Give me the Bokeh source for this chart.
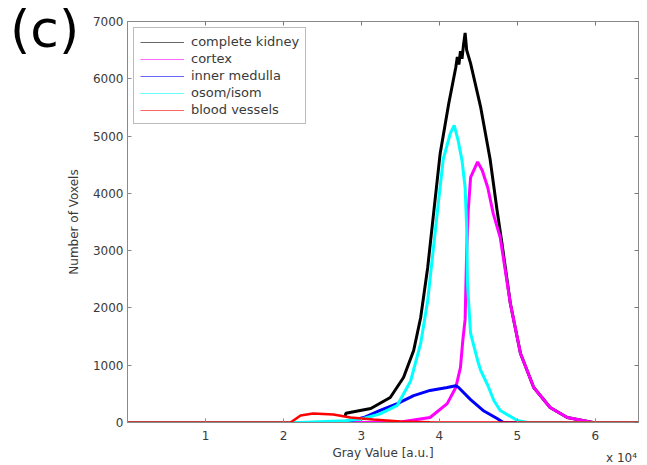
from bokeh.plotting import figure
from bokeh.models import Legend, LegendItem, LinearAxis, FixedTicker, Range1d, Div
from bokeh.layouts import column
from bokeh.embed import file_html
from bokeh.resources import INLINE

# ---- data (gray value in a.u., number of voxels) ----
kidney_x = [27900, 28000, 31200, 33700, 35400, 36700, 37600, 38500, 39200, 40100, 41200,
            42100, 42300, 42500, 42700, 42900, 43100, 43300, 43500, 44000, 45300, 46500,
            47400, 48000, 49100, 50400, 52100, 54200, 56400, 59700]
kidney_y = [100, 160, 244, 437, 786, 1257, 1833, 2706, 3580, 4697, 5570,
            6198, 6380, 6250, 6480, 6350, 6600, 6800, 6500, 6268, 5500, 4600,
            3700, 3150, 2078, 1205, 611, 262, 87, 0]

cortex_x = [0, 34600, 38800, 41000, 42100, 42700, 43000, 43300, 43500, 43700, 44000,
            44900, 45500, 46200, 46900, 47800, 49100, 50400, 52100, 54200, 56400, 59700, 65535]
cortex_y = [0, 0, 87, 330, 611, 960, 1430, 1800, 3000, 3700, 4278,
            4550, 4400, 4103, 3650, 3230, 2078, 1205, 611, 262, 87, 0, 0]

medulla_x = [0, 27700, 30300, 32400, 34600, 36700, 38800, 41000, 42100, 42400, 44000,
             45600, 47400, 48200, 65535]
medulla_y = [0, 0, 87, 210, 330, 470, 560, 611, 640, 620, 400,
             210, 70, 0, 0]

osom_x = [0, 22200, 27900, 30000, 32400, 34600, 36300, 37600, 38500, 39200, 39900,
          40500, 41400, 41900, 42400, 42900, 43300, 43500, 43600, 44000, 44900, 45300,
          46200, 47000, 47800, 50000, 51300, 65535]
osom_y = [0, 0, 30, 60, 150, 300, 720, 1380, 2130, 3000, 3876,
          4600, 5046, 5186, 4924, 4575, 4103, 3400, 2427, 1554, 1083, 908,
          650, 380, 210, 35, 0, 0]

vessels_x = [0, 20900, 22200, 23800, 26400, 28600, 31500, 35000, 38800, 43000, 65535]
vessels_y = [0, 0, 122, 157, 140, 87, 52, 17, 5, 0, 0]

series_names = ["complete kidney", "cortex", "inner medulla", "osom/isom", "blood vessels"]
series_colors = ["#000000", "#ff00ff", "#0000ff", "#00ffff", "#ff0000"]

x_ticks = [10000, 20000, 30000, 40000, 50000, 60000]
x_tick_labels = ["1", "2", "3", "4", "5", "6"]
y_ticks = [0, 1000, 2000, 3000, 4000, 5000, 6000, 7000]

FONT = "DejaVu Sans"
AXIS_GRAY = "#8a8a8a"
TEXT_GRAY = "#3a3a3a"

p = figure(width=647, height=465, output_backend="svg", toolbar_location=None,
           x_range=Range1d(0, 65535), y_range=Range1d(0, 7000),
           min_border_left=127, min_border_right=9, min_border_top=21, min_border_bottom=43)
p.grid.visible = False
p.outline_line_color = AXIS_GRAY
p.background_fill_color = "white"


def style_axis(ax):
    ax.axis_line_color = AXIS_GRAY
    ax.major_tick_line_color = AXIS_GRAY
    ax.major_tick_in = 4
    ax.major_tick_out = 0
    ax.minor_tick_line_color = None
    ax.major_label_text_font = FONT
    ax.major_label_text_font_size = "12px"
    ax.major_label_text_color = TEXT_GRAY
    ax.axis_label_text_font = FONT
    ax.axis_label_text_font_size = "12px"
    ax.axis_label_text_color = TEXT_GRAY
    ax.axis_label_text_font_style = "normal"


xa = p.xaxis[0]
xa.ticker = FixedTicker(ticks=x_ticks)
xa.major_label_overrides = {t: l for t, l in zip(x_ticks, x_tick_labels)}
xa.axis_label = "Gray Value [a.u.]"
ya = p.yaxis[0]
ya.ticker = FixedTicker(ticks=y_ticks)
ya.axis_label = "Number of Voxels"
style_axis(xa)
style_axis(ya)
xa.major_label_standoff = 8
xa.axis_label_standoff = 3
ya.major_label_standoff = 4
ya.axis_label_standoff = 9

# box ticks on top and right (drawn as label-less minor ticks)
top = LinearAxis(ticker=FixedTicker(ticks=[], minor_ticks=x_ticks))
right = LinearAxis(ticker=FixedTicker(ticks=[], minor_ticks=y_ticks))
for ax in (top, right):
    ax.axis_line_color = AXIS_GRAY
    ax.major_tick_line_color = None
    ax.minor_tick_line_color = "#777777"
    ax.minor_tick_in = 4
    ax.minor_tick_out = 0
    ax.major_label_standoff = 0
p.add_layout(top, "above")
p.add_layout(right, "right")

# data lines
data = [(kidney_x, kidney_y), (cortex_x, cortex_y), (medulla_x, medulla_y),
        (osom_x, osom_y), (vessels_x, vessels_y)]
widths = [3, 3, 3, 3, 2.5]
for (xs, ys), c, w in zip(data, series_colors, widths):
    p.line(xs, ys, line_color=c, line_width=w)

# legend with thin sample lines (renderers kept off-screen)
items = []
for name, c in zip(series_names, series_colors):
    r = p.line([-20000, -10000], [-1000, -1000], line_color=c, line_width=1.2, line_alpha=0.6)
    items.append(LegendItem(label=name, renderers=[r]))
legend = Legend(items=items, location="top_left", margin=6, padding=6, spacing=2,
                label_height=14, glyph_height=14, glyph_width=44, label_standoff=7,
                label_text_font=FONT, label_text_font_size="13px", label_text_color=TEXT_GRAY,
                border_line_color="#777777", border_line_width=1.5,
                background_fill_color="white", background_fill_alpha=1)
p.add_layout(legend)

# panel tag and x-axis multiplier as overlaid text
tag = Div(text="(c)", styles={"position": "absolute", "left": "5px", "top": "-2px",
                              "font-family": "DejaVu Sans", "font-size": "52px",
                              "line-height": "1", "color": "black", "z-index": "10",
                              "white-space": "nowrap"})
mult = Div(text="x 10\u2074", styles={"position": "absolute", "left": "601px", "top": "447px",
                                      "font-family": "DejaVu Sans", "font-size": "12px",
                                      "line-height": "1", "color": TEXT_GRAY, "z-index": "10",
                                      "white-space": "nowrap"})

layout = column(p, tag, mult)
open("out.html", "w").write(file_html(layout, INLINE))
